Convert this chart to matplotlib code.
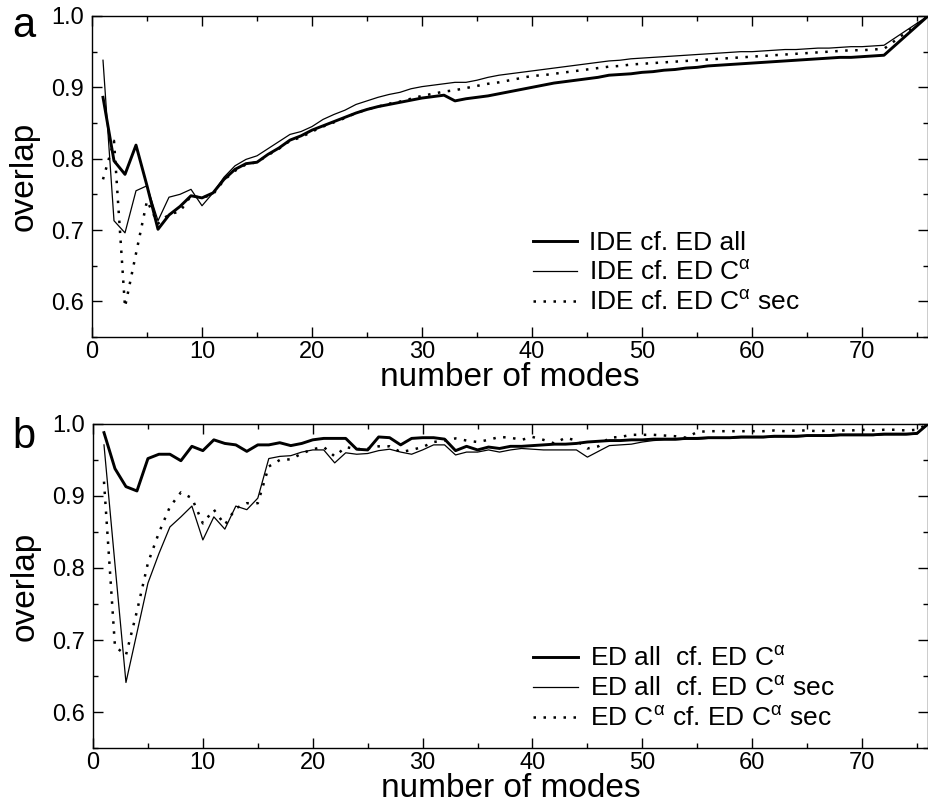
import matplotlib
matplotlib.use("Agg")
import matplotlib.pyplot as plt
from matplotlib.ticker import MultipleLocator

plt.rcParams['font.family'] = ['Liberation Sans', 'DejaVu Sans']
plt.rcParams['mathtext.fontset'] = 'custom'
plt.rcParams['mathtext.rm'] = 'Liberation Sans'

# panel a: IDE compared with ED subspaces
modes_a = list(range(1, 73)) + [76]
ide_all = [0.886, 0.797, 0.778, 0.819, 0.762, 0.701, 0.721, 0.733, 0.748, 0.745,
           0.752, 0.771, 0.785, 0.793, 0.795, 0.806, 0.815, 0.826, 0.832, 0.840,
           0.846, 0.852, 0.858, 0.864, 0.869, 0.873, 0.876, 0.879, 0.882, 0.885,
           0.887, 0.889, 0.881, 0.884, 0.886, 0.888, 0.891, 0.894, 0.897, 0.900,
           0.903, 0.906, 0.908, 0.910, 0.912, 0.914, 0.917, 0.918, 0.919, 0.921,
           0.922, 0.924, 0.925, 0.927, 0.928, 0.930, 0.931, 0.932, 0.933, 0.934,
           0.935, 0.936, 0.937, 0.938, 0.939, 0.940, 0.941, 0.942, 0.942, 0.943,
           0.944, 0.945, 1.000]
ide_ca = [0.938, 0.713, 0.696, 0.755, 0.762, 0.713, 0.746, 0.750, 0.757, 0.734,
          0.752, 0.774, 0.790, 0.799, 0.804, 0.814, 0.824, 0.834, 0.838, 0.845,
          0.855, 0.862, 0.868, 0.876, 0.881, 0.886, 0.890, 0.893, 0.898, 0.901,
          0.903, 0.905, 0.907, 0.907, 0.910, 0.914, 0.917, 0.919, 0.921, 0.923,
          0.925, 0.927, 0.929, 0.931, 0.933, 0.935, 0.937, 0.938, 0.940, 0.941,
          0.942, 0.943, 0.944, 0.945, 0.946, 0.947, 0.948, 0.949, 0.950, 0.950,
          0.951, 0.952, 0.953, 0.953, 0.954, 0.955, 0.955, 0.956, 0.957, 0.957,
          0.958, 0.959, 1.000]
ide_ca_sec = [0.771, 0.825, 0.592, 0.667, 0.741, 0.709, 0.722, 0.726, 0.748, 0.745,
              0.750, 0.770, 0.783, 0.792, 0.795, 0.805, 0.814, 0.825, 0.830, 0.838,
              0.845, 0.851, 0.857, 0.864, 0.869, 0.873, 0.877, 0.880, 0.884, 0.888,
              0.891, 0.894, 0.896, 0.899, 0.902, 0.905, 0.907, 0.910, 0.913, 0.916,
              0.917, 0.919, 0.921, 0.923, 0.925, 0.927, 0.929, 0.930, 0.932, 0.933,
              0.934, 0.935, 0.936, 0.937, 0.938, 0.939, 0.940, 0.941, 0.942, 0.943,
              0.944, 0.945, 0.946, 0.947, 0.948, 0.949, 0.950, 0.951, 0.952, 0.952,
              0.953, 0.954, 1.000]

# panel b: ED subspaces compared with each other
modes_b = list(range(1, 77))
all_ca = [0.988, 0.938, 0.913, 0.907, 0.952, 0.958, 0.958, 0.949, 0.969, 0.963,
          0.978, 0.973, 0.971, 0.962, 0.971, 0.971,
          0.974, 0.970, 0.973, 0.978, 0.980, 0.980, 0.980, 0.965, 0.964, 0.982,
          0.981, 0.971, 0.980, 0.981, 0.981, 0.979, 0.963, 0.969, 0.964, 0.968,
          0.966, 0.969, 0.969, 0.970, 0.971, 0.972, 0.972, 0.973, 0.975,
          0.976, 0.977, 0.977, 0.978, 0.978, 0.979, 0.979, 0.979, 0.980, 0.980,
          0.981, 0.981, 0.981, 0.982, 0.982, 0.982, 0.983, 0.983, 0.983, 0.984,
          0.984, 0.984, 0.985, 0.985, 0.985, 0.985, 0.986, 0.986, 0.986, 0.987,
          1.000]
all_ca_sec = [0.971, 0.805, 0.641, 0.710, 0.779, 0.820, 0.857, 0.871, 0.886, 0.839,
              0.871, 0.854, 0.886, 0.881, 0.897, 0.952,
              0.955, 0.956, 0.961, 0.964, 0.964, 0.946, 0.960, 0.958, 0.959, 0.963,
              0.965, 0.961, 0.958, 0.964, 0.971, 0.971, 0.957, 0.961, 0.961, 0.964,
              0.961, 0.964, 0.966, 0.965, 0.964, 0.964, 0.964, 0.964, 0.954,
              0.962, 0.970, 0.971, 0.972, 0.975, 0.977, 0.978, 0.978, 0.979, 0.979,
              0.980, 0.980, 0.980, 0.981, 0.981, 0.981, 0.982, 0.982, 0.982, 0.983,
              0.983, 0.983, 0.984, 0.984, 0.984, 0.984, 0.985, 0.985, 0.985, 0.986,
              1.000]
ca_ca_sec = [0.920, 0.691, 0.679, 0.740, 0.807, 0.849, 0.885, 0.905, 0.897, 0.862,
             0.881, 0.860, 0.883, 0.890, 0.890, 0.941,
             0.950, 0.951, 0.959, 0.965, 0.968, 0.955, 0.968, 0.965, 0.966, 0.969,
             0.969, 0.961, 0.964, 0.968, 0.975, 0.977, 0.980, 0.977, 0.975, 0.978,
             0.982, 0.981, 0.978, 0.982, 0.978, 0.973, 0.981, 0.977, 0.966,
             0.969, 0.981, 0.982, 0.985, 0.985, 0.985, 0.984, 0.983, 0.981, 0.989,
             0.990, 0.990, 0.990, 0.990, 0.990, 0.990, 0.991, 0.990, 0.991, 0.991,
             0.990, 0.991, 0.991, 0.991, 0.992, 0.991, 0.992, 0.992, 0.991, 0.992,
             1.000]

ca = r"C$^{\mathregular{\alpha}}$"
labels_a = ["IDE cf. ED all", "IDE cf. ED " + ca, "IDE cf. ED " + ca + " sec"]
labels_b = ["ED all  cf. ED " + ca, "ED all  cf. ED " + ca + " sec",
            "ED " + ca + " cf. ED " + ca + " sec"]

thick = dict(color="black", lw=2.1)
thin = dict(color="black", lw=0.9)
dotted = dict(color="black", lw=1.8, linestyle=(0, (1, 3)))

fig = plt.figure(figsize=(9.29, 8.05), dpi=100)
ax_a = fig.add_axes([92 / 929, 1 - 337 / 805, 836 / 929, 321 / 805])
ax_b = fig.add_axes([93 / 929, 1 - 748 / 805, 835 / 929, 324 / 805])

ax_a.plot(modes_a, ide_all, label=labels_a[0], **thick)
ax_a.plot(modes_a, ide_ca, label=labels_a[1], **thin)
ax_a.plot(modes_a, ide_ca_sec, label=labels_a[2], **dotted)

ax_b.plot(modes_b, all_ca, label=labels_b[0], **thick)
ax_b.plot(modes_b, all_ca_sec, label=labels_b[1], **thin)
ax_b.plot(modes_b, ca_ca_sec, label=labels_b[2], **dotted)

for ax, leg_y in ((ax_a, 0.330), (ax_b, 0.313)):
    ax.set_xlim(0, 76)
    ax.set_ylim(0.55, 1.0)
    ax.xaxis.set_major_locator(MultipleLocator(10))
    ax.xaxis.set_minor_locator(MultipleLocator(5))
    ax.yaxis.set_minor_locator(MultipleLocator(0.05))
    ax.set_yticks([0.6, 0.7, 0.8, 0.9, 1.0])
    ax.set_yticklabels(["0.6", "0.7", "0.8", "0.9", "1.0"])
    ax.tick_params(which="both", direction="in", top=True, right=True,
                   labelsize=17, width=1.0)
    ax.tick_params(which="major", length=7)
    ax.tick_params(which="minor", length=3.5)
    ax.tick_params(axis="y", pad=6)
    ax.tick_params(axis="x", pad=3)
    for s in ax.spines.values():
        s.set_linewidth(1.0)
    ax.set_xlabel("number of modes", fontsize=24, labelpad=-1)
    ax.set_ylabel("overlap", fontsize=24, labelpad=8)
    ax.legend(loc="upper left", bbox_to_anchor=(0.527, leg_y), frameon=False,
              fontsize=19, handlelength=1.7, handletextpad=0.45,
              labelspacing=0.2, borderpad=0, borderaxespad=0)

fig.text(0.013, 1 - 37 / 805, "a", fontsize=30, va="baseline")
fig.text(0.013, 1 - 448 / 805, "b", fontsize=30, va="baseline")

fig.savefig("out.png", dpi=100)
